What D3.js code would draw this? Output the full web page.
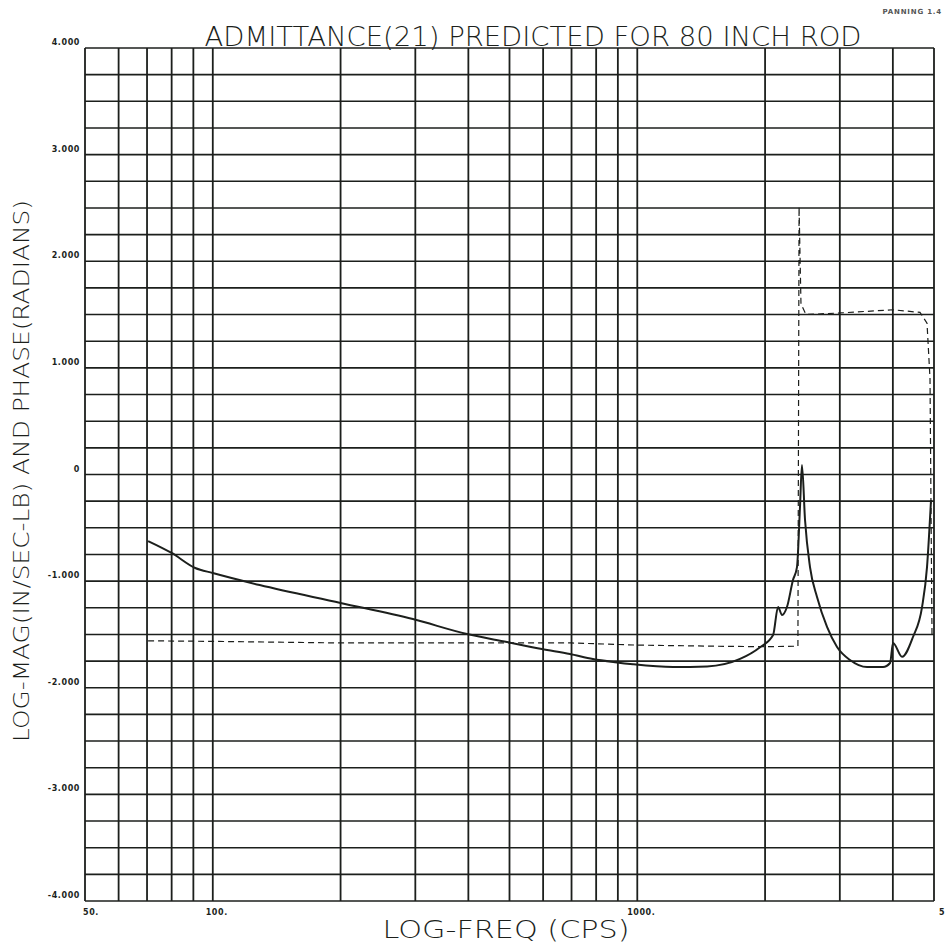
<!DOCTYPE html>
<html>
<head>
<meta charset="utf-8">
<script src="https://cdn.jsdelivr.net/npm/d3@7/dist/d3.min.js"></script>
<style>
  body { margin: 0; background: #fff; }
  svg { display: block; }
</style>
</head>
<body>
<div id="chart"></div>
<script>
// grid frequencies (log axis) and labelled ones
const gridFreqs = [50, 60, 70, 80, 90, 100, 200, 300, 400, 500, 600, 700, 800, 900, 1000, 2000, 3000, 4000, 5000];
const freqLabels = [[50, "50."], [100, "100."], [1000, "1000."], [5000, "5"]];
const gridVals = d3.range(-4, 4.001, 0.25);
const valLabels = [[4, "4.000"], [3, "3.000"], [2, "2.000"], [1, "1.000"], [0, "0"], [-1, "-1.000"], [-2, "-2.000"], [-3, "-3.000"], [-4, "-4.000"]];

// log magnitude (solid)
const magFreq = [70.4, 80, 90.9, 100, 129, 200, 296, 397, 493, 596, 694, 786, 886, 977, 1214, 1460, 1746, 1946, 2089, 2146, 2193, 2252, 2327, 2378, 2417, 2443, 2484, 2552, 2651, 2799, 2955, 3170, 3477, 3793, 3940, 4004, 4205, 4461, 4686, 4814, 4920];
const magVal = [-0.624, -0.736, -0.877, -0.924, -1.037, -1.205, -1.356, -1.496, -1.571, -1.637, -1.684, -1.73, -1.76, -1.78, -1.806, -1.80, -1.73, -1.62, -1.506, -1.243, -1.318, -1.243, -0.99, -0.868, -0.305, 0.089, -0.427, -0.868, -1.149, -1.43, -1.618, -1.74, -1.806, -1.806, -1.768, -1.58, -1.71, -1.524, -1.243, -0.868, -0.239];

// phase (dashed)
const phaseFreq = [70.4, 100, 200, 500, 700, 1000, 1500, 2000, 2390, 2405, 2430, 2497, 3003, 4004, 4634, 4814, 4893, 4946];
const phaseVal = [-1.56, -1.565, -1.58, -1.58, -1.58, -1.60, -1.61, -1.615, -1.61, 2.51, 1.60, 1.50, 1.515, 1.545, 1.52, 1.42, 0.9, -1.5];

const W = 945, H = 945;
const x = d3.scaleLog().domain([50, 5000]).range([85, 934]);
const y = d3.scaleLinear().domain([-4, 4]).range([901, 48]);
const ink = "#1c1f1c";

const svg = d3.select("#chart").append("svg")
  .attr("width", W).attr("height", H);

// grid
svg.append("g").selectAll("line").data(gridFreqs).join("line")
  .attr("x1", d => x(d)).attr("x2", d => x(d))
  .attr("y1", y(4)).attr("y2", y(-4))
  .attr("stroke", ink).attr("stroke-width", 1.8);

svg.append("g").selectAll("line").data(gridVals).join("line")
  .attr("x1", x(50)).attr("x2", x(5000))
  .attr("y1", d => y(d)).attr("y2", d => y(d))
  .attr("stroke", ink).attr("stroke-width", 1.6);

// tick labels
svg.append("g").selectAll("text").data(valLabels).join("text")
  .attr("x", 80).attr("y", d => y(d[0]) - 3)
  .attr("text-anchor", "end")
  .attr("font-family", "DejaVu Sans").attr("font-weight", "bold")
  .attr("font-size", 8).attr("letter-spacing", 0.6)
  .attr("fill", ink)
  .text(d => d[1]);

svg.append("g").selectAll("text").data(freqLabels).join("text")
  .attr("x", d => x(d[0])).attr("y", 915)
  .attr("text-anchor", d => d[0] === 100 || d[0] === 1000 ? "middle" : "start")
  .attr("dx", d => d[0] === 5000 ? 5 : (d[0] === 50 ? -2 : 4))
  .attr("font-family", "DejaVu Sans").attr("font-weight", "bold")
  .attr("font-size", 8).attr("letter-spacing", 0.6)
  .attr("fill", ink)
  .text(d => d[1]);

// curves
const mag = magFreq.map((f, i) => [f, magVal[i]]);
const phase = phaseFreq.map((f, i) => [f, phaseVal[i]]);
const line = d3.line().x(d => x(d[0])).y(d => y(d[1])).curve(d3.curveMonotoneX);
const lineLin = d3.line().x(d => x(d[0])).y(d => y(d[1]));

svg.append("path").datum(phase)
  .attr("d", lineLin)
  .attr("fill", "none").attr("stroke", ink)
  .attr("stroke-width", 1.2).attr("stroke-dasharray", "6,4");

svg.append("path").datum(mag)
  .attr("d", line)
  .attr("fill", "none").attr("stroke", ink)
  .attr("stroke-width", 2);

// titles (thin plotter-style lettering)
svg.append("text")
  .attr("x", 533).attr("y", 46)
  .attr("text-anchor", "middle")
  .attr("font-family", "DejaVu Sans").attr("font-weight", 200).attr("font-size", 26)
  .attr("textLength", 657).attr("lengthAdjust", "spacingAndGlyphs")
  .attr("fill", ink)
  .text("ADMITTANCE(21) PREDICTED FOR 80 INCH ROD");

svg.append("text")
  .attr("x", 506).attr("y", 938)
  .attr("text-anchor", "middle")
  .attr("font-family", "DejaVu Sans").attr("font-weight", 200).attr("font-size", 24)
  .attr("textLength", 247).attr("lengthAdjust", "spacingAndGlyphs")
  .attr("fill", ink)
  .text("LOG-FREQ (CPS)");

svg.append("text")
  .attr("transform", "translate(29,471) rotate(-90)")
  .attr("text-anchor", "middle")
  .attr("font-family", "DejaVu Sans").attr("font-weight", 200).attr("font-size", 21)
  .attr("textLength", 542).attr("lengthAdjust", "spacingAndGlyphs")
  .attr("fill", ink)
  .text("LOG-MAG(IN/SEC-LB) AND PHASE(RADIANS)");

svg.append("text")
  .attr("x", 942).attr("y", 14)
  .attr("text-anchor", "end")
  .attr("font-family", "DejaVu Sans").attr("font-weight", "bold")
  .attr("font-size", 7).attr("letter-spacing", 0.8)
  .attr("fill", "#555")
  .text("PANNING 1.4");
</script>
</body>
</html>
